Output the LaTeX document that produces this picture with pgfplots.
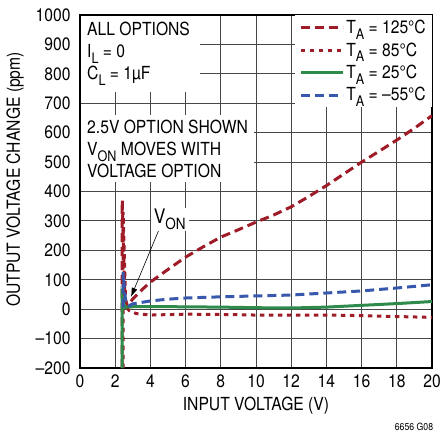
\documentclass[border=0pt]{standalone}
\usepackage{pgfplots}
\pgfplotsset{compat=1.18}
\usetikzlibrary{arrows.meta}
\usepackage{fontspec}
\setmainfont{TeX Gyre Heros}[FakeStretch=0.87]
\definecolor{cred}{RGB}{158,28,40}
\definecolor{cgreen}{RGB}{46,139,75}
\definecolor{cblue}{RGB}{55,88,172}
\newcommand{\sub}[1]{\raisebox{-0.32em}{\fontsize{14.5}{14.5}\selectfont #1}}
\newcommand{\bigf}{\fontsize{18}{22}\selectfont}
\begin{document}
\begin{tikzpicture}
\begin{axis}[
  name=ax, at={(0,0)}, anchor=south west,
  scale only axis, width=352pt, height=353pt,
  xmin=0, xmax=20, ymin=-200, ymax=1000,
  xtick={0,2,...,20}, ytick={-200,-100,...,1000},
  xticklabels={0,2,4,6,8,10,12,14,16,18,20},
  yticklabels={–200,–100,0,100,200,300,400,500,600,700,800,900,1000},
  grid=major, major grid style={draw=black!72, line width=0.9pt},
  axis line style={line width=1.3pt},
  tick style={draw=none},
  ticklabel style={font=\bigf},
  xticklabel style={yshift=-3pt},
  yticklabel style={xshift=-6pt},
  every axis x label/.style={at={([yshift=-38pt]axis description cs:0.5,0)}, anchor=center, font=\bigf},
  every axis y label/.style={at={([xshift=-65pt,yshift=12pt]axis description cs:0,0.5)}, anchor=center, rotate=90, font=\bigf},
  xlabel={INPUT VOLTAGE (V)},
  ylabel={OUTPUT VOLTAGE CHANGE (ppm)},
  legend style={at={(rel axis cs:1,1)}, anchor=north east, draw=none, fill=white,
    inner xsep=4pt, inner ysep=3pt, font=\bigf, row sep=3.5pt,
    /tikz/every even column/.append style={column sep=2pt}},
  legend cell align=left,
  legend image code/.code={\draw[#1] (0pt,0pt) -- (42pt,0pt);},
]
\fill[white] ([xshift=0.7pt,yshift=-0.7pt]axis cs:0,1000) rectangle (axis cs:6.8,738);
\fill[white] ([xshift=0.7pt]axis cs:0,660) rectangle (axis cs:9.9,432);
\node[anchor=north west, align=left, inner sep=0pt, font=\bigf] at (axis cs:0.4,976)
  {ALL OPTIONS\\I\sub{L} = 0\\C\sub{L} = 1µF};
\node[anchor=north west, align=left, inner sep=0pt, font=\bigf] at (axis cs:0.4,643)
  {2.5V OPTION SHOWN\\V\sub{ON} MOVES WITH\\VOLTAGE OPTION};

\addplot[cred, line width=3pt, dash pattern=on 9pt off 5pt] coordinates {
(2.4,-200)(2.4,370)(2.55,40)(2.7,10)(3,35)(3.5,65)(4,92)(5,135)(6,177)(7,212)(8,245)(9,270)(10,296)(11,320)(12,348)(13,383)(14,420)(15,460)(16,500)(17,537)(18,575)(19,615)(20,658)};
\addlegendentry{T\sub{A} = 125°C}
\addplot[cred, line width=3pt, dash pattern=on 4.5pt off 4.5pt] coordinates {
(2.45,-200)(2.45,330)(2.6,10)(2.8,-5)(3.2,-15)(4,-20)(6,-17)(8,-18)(10,-20)(12,-20)(14,-20)(16,-22)(18,-25)(20,-28)};
\addlegendentry{T\sub{A} = 85°C}
\addplot[cgreen, line width=3pt] coordinates {
(2.4,-200)(2.4,40)(2.55,5)(2.7,8)(4,9)(6,8)(8,7)(10,5)(12,4)(14,7)(16,13)(18,19)(20,26)};
\addlegendentry{T\sub{A} = 25°C}
\addplot[cblue, line width=3pt, dash pattern=on 9pt off 5pt] coordinates {
(2.45,5)(2.45,126)(2.6,20)(2.8,12)(3,18)(4,28)(5,34)(6,38)(8,42)(10,45)(12,48)(14,55)(16,62)(18,72)(20,83)};
\addlegendentry{T\sub{A} = –55°C}

\draw[-{Latex[length=9pt,width=6pt]}, line width=0.6pt] (axis cs:4.5,272) -- (axis cs:2.9,42);
\node[fill=white, inner xsep=3pt, inner ysep=1pt, font=\fontsize{20}{20}\selectfont] at (axis cs:5.1,305) {V\raisebox{-0.3em}{\fontsize{15.5}{15.5}\selectfont ON}};
\end{axis}
\node[font=\fontsize{10}{10}\selectfont] at ([xshift=-18pt,yshift=-59pt]ax.south east) {6656 G08};
\pgfresetboundingbox
\path[use as bounding box] ([shift={(-80pt,-64pt)}]ax.south west) rectangle ([shift={(11pt,15pt)}]ax.north east);
\end{tikzpicture}
\end{document}
